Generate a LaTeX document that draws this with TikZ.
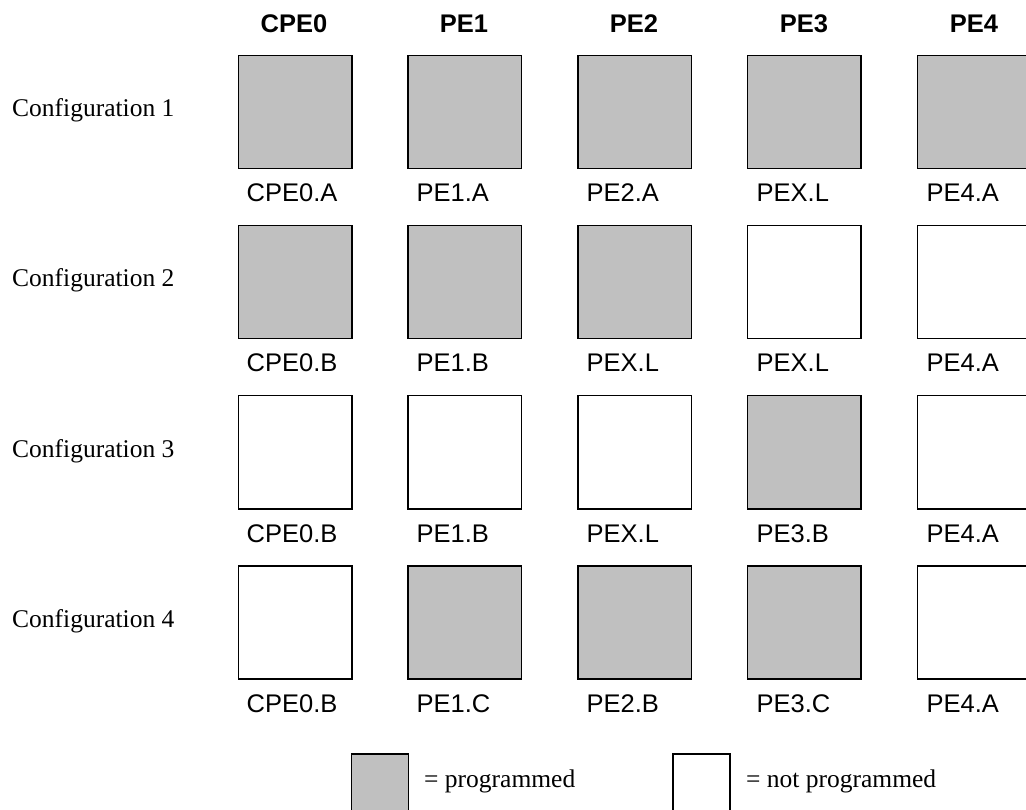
\documentclass[tikz,border=0pt]{standalone}
\usepackage{fontspec}
\setmainfont{Liberation Serif}
\setsansfont{Liberation Sans}
\definecolor{prog}{RGB}{192,192,192}
\tikzset{
  cell/.style={draw=black, line width=1.5pt, minimum width=113.5pt, minimum height=113pt, inner sep=0pt, anchor=north west},
  on/.style={cell, fill=prog},
  off/.style={cell, fill=white},
  legbox/.style={draw=black, line width=1.5pt, minimum width=57pt, minimum height=57pt, inner sep=0pt, anchor=north west},
  head/.style={font=\sffamily\bfseries\fontsize{25.5}{28}\selectfont, anchor=base, inner sep=0pt},
  lab/.style={font=\sffamily\fontsize{25.5}{28}\selectfont, anchor=base west, inner sep=0pt},
  conf/.style={font=\rmfamily\fontsize{25.5}{28}\selectfont, anchor=base west, inner sep=0pt},
}
\begin{document}
\begin{tikzpicture}[x=1pt,y=-1pt]
\useasboundingbox (0,0) rectangle (1026,810);
\clip (0,0) rectangle (1026,810);
% column headers
\foreach \h [count=\c from 0] in {CPE0,PE1,PE2,PE3,PE4} {
  \node[head] (h\c) at ({294+170*\c},32.5) {\h};
}
% rows
\foreach \r/\st/\labs in {
  0/{on,on,on,on,on}/{CPE0.A,PE1.A,PE2.A,PEX.L,PE4.A},
  1/{on,on,on,off,off}/{CPE0.B,PE1.B,PEX.L,PEX.L,PE4.A},
  2/{off,off,off,on,off}/{CPE0.B,PE1.B,PEX.L,PE3.B,PE4.A},
  3/{off,on,on,on,off}/{CPE0.B,PE1.C,PE2.B,PE3.C,PE4.A}} {
  \pgfmathtruncatemacro{\rr}{\r+1}
  \node[conf] (c\r) at (12,{117+170*\r}) {Configuration \rr};
  \foreach \s [count=\c from 0] in \st {
    \node[\s] (b\r\c) at ({237.5+169.75*\c},{55+170*\r}) {};
  }
  \foreach \l [count=\c from 0] in \labs {
    \node[lab] (l\r\c) at ({246.5+170*\c},{202+170*\r}) {\l};
  }
}
% legend
\node[legbox, fill=prog] (lg1) at (350.5,753) {};
\node[conf] (lt1) at (424,787) {= programmed};
\node[legbox, fill=white] (lg2) at (672,753) {};
\node[conf] (lt2) at (746,787) {= not programmed};
\end{tikzpicture}
\end{document}
